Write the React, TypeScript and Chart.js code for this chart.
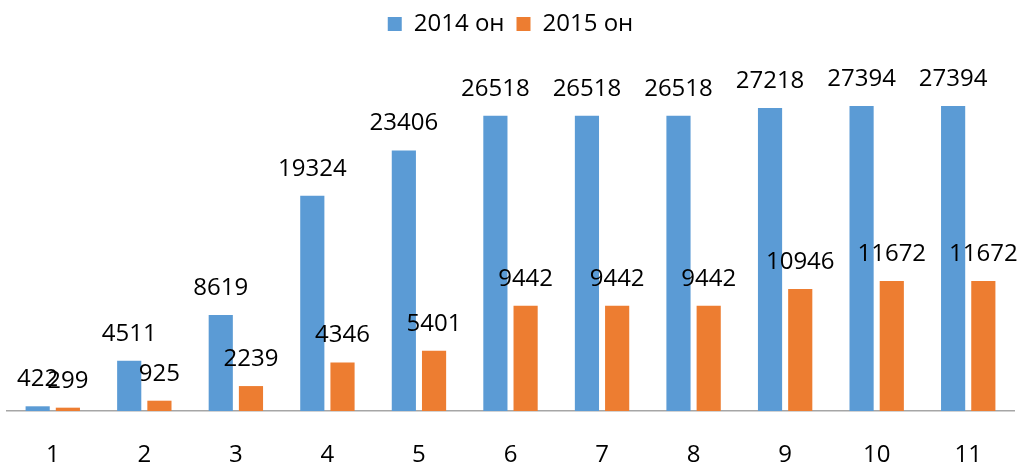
import React, { useEffect, useRef } from "react";
import { Chart, registerables } from "chart.js";

Chart.register(...registerables);

const categories = ["1", "2", "3", "4", "5", "6", "7", "8", "9", "10", "11"];
const series2014 = [422, 4511, 8619, 19324, 23406, 26518, 26518, 26518, 27218, 27394, 27394];
const series2015 = [299, 925, 2239, 4346, 5401, 9442, 9442, 9442, 10946, 11672, 11672];
const seriesNames = ["2014 он", "2015 он"];

const FONT = "'Open Sans', 'Noto Sans', sans-serif";

const labelPlugin = {
  id: "barLabels",
  afterDatasetsDraw(chart: any) {
    const ctx = chart.ctx;
    ctx.save();
    ctx.font = `24px ${FONT}`;
    ctx.fillStyle = "#000";
    ctx.textAlign = "center";
    ctx.textBaseline = "middle";
    chart.data.datasets.forEach((ds: any, di: number) => {
      const meta = chart.getDatasetMeta(di);
      meta.data.forEach((el: any, i: number) => {
        ctx.fillText(String(ds.data[i]), el.x, el.y - 27);
      });
    });
    ctx.restore();
  },
};

export default function App() {
  const ref = useRef<HTMLCanvasElement>(null);
  useEffect(() => {
    document.body.style.margin = "0";
    const chart = new Chart(ref.current!, {
      type: "bar",
      data: {
        labels: categories,
        datasets: [
          { label: seriesNames[0], data: series2014, backgroundColor: "#5B9BD5", barPercentage: 0.8, categoryPercentage: 0.66 },
          { label: seriesNames[1], data: series2015, backgroundColor: "#ED7D31", barPercentage: 0.8, categoryPercentage: 0.66 },
        ],
      },
      options: {
        animation: false,
        responsive: false,
        layout: { padding: { left: 7, right: 10, top: 0, bottom: 0 } },
        plugins: {
          legend: {
            position: "top",
            labels: { font: { size: 24, family: FONT }, color: "#000", boxWidth: 14, boxHeight: 14, padding: 12 },
          },
          tooltip: { enabled: false },
        },
        scales: {
          x: {
            grid: { display: false, drawTicks: false },
            border: { display: true, color: "#A6A6A6", width: 1.5 },
            ticks: { font: { size: 24, family: FONT }, color: "#000", padding: 30 },
            afterFit: (scale: any) => { scale.height = 54; },
          },
          y: { display: false, min: 0, max: 32780 },
        },
      },
      plugins: [labelPlugin],
    });
    return () => chart.destroy();
  }, []);
  return <canvas ref={ref} width={1024} height={465} style={{ display: "block" }} />;
}
